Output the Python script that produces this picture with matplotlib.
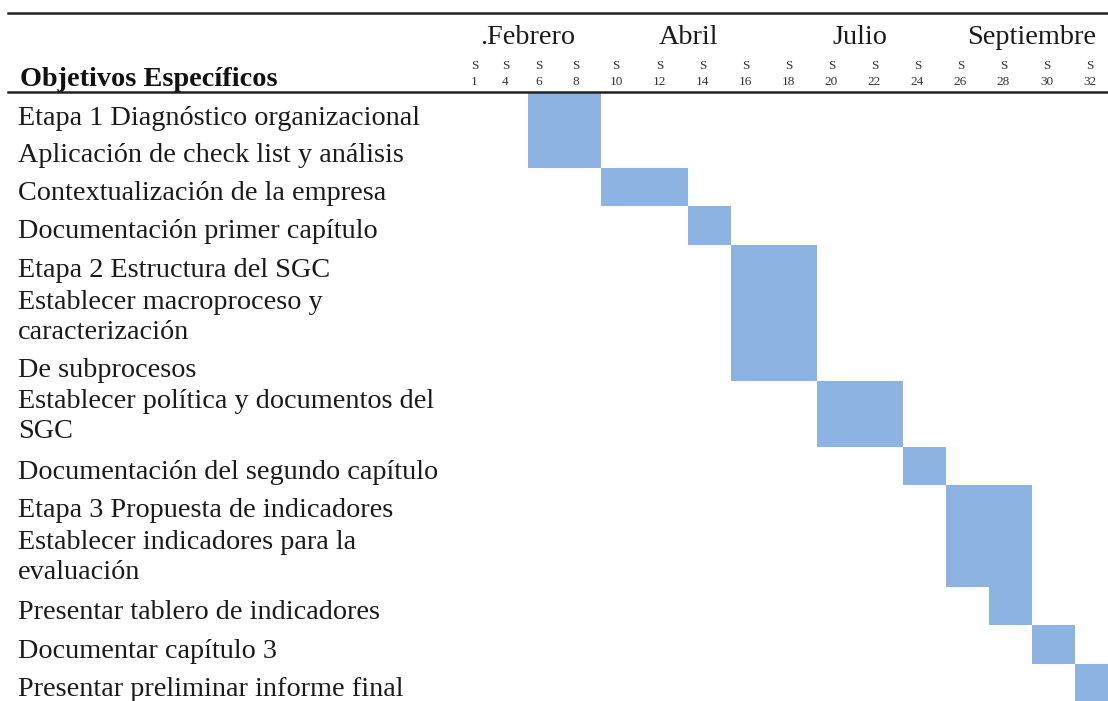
import matplotlib.pyplot as plt

# datos del cronograma
tareas = [
    "Etapa 1 Diagnóstico organizacional",
    "Aplicación de check list y análisis",
    "Contextualización de la empresa",
    "Documentación primer capítulo",
    "Etapa 2 Estructura del SGC",
    "Establecer macroproceso y\ncaracterización",
    "De subprocesos",
    "Establecer política y documentos del\nSGC",
    "Documentación del segundo capítulo",
    "Etapa 3 Propuesta de indicadores",
    "Establecer indicadores para la\nevaluación",
    "Presentar tablero de indicadores",
    "Documentar capítulo 3",
    "Presentar preliminar informe final",
]
inicio = [6, 6, 10, 14, 16, 16, 16, 20, 24, 26, 26, 28, 30, 32]
fin = [8, 8, 12, 14, 18, 18, 18, 22, 24, 28, 28, 28, 30, 32]

semanas = [1, 4, 6, 8, 10, 12, 14, 16, 18, 20, 22, 24, 26, 28, 30, 32]
meses = [".Febrero", "Abril", "Julio", "Septiembre"]
mes_semana = [6, 14, 22, 30]

# layout (pixeles)
col_edges = [466, 497, 528, 564, 601, 645, 688, 731, 774, 817, 860, 903,
             946, 989, 1032, 1075, 1118]
row_edges = [93, 131, 168, 206, 245, 283, 347, 381, 447, 485, 523, 587,
             625, 664, 702]

color_barra = "#8db3e2"
fuente = "Liberation Serif"

fig = plt.figure(figsize=(11.08, 7.01), dpi=100)
ax = fig.add_axes([0, 0, 1, 1])
ax.set_xlim(0, 1108)
ax.set_ylim(701, 0)
ax.axis("off")

# barras
for i, t in enumerate(tareas):
    c0 = semanas.index(inicio[i])
    c1 = semanas.index(fin[i])
    x0 = col_edges[c0]
    x1 = col_edges[c1 + 1]
    y0 = row_edges[i]
    y1 = row_edges[i + 1]
    ax.bar(x0, y1 - y0, width=x1 - x0, bottom=y0, align="edge",
           color=color_barra, edgecolor="none", zorder=2)
    off = 2.5 if "\n" in t else 6.5
    ax.text(18, (y0 + y1) / 2 + off, t, fontsize=20.3, family=fuente,
            va="center", ha="left", linespacing=1.3, color="#1a1a1a")

# encabezado
ax.text(20, 79, "Objetivos Específicos", fontsize=20.3, family=fuente,
        fontweight="bold", va="center", ha="left", color="#111111")
for m, w in zip(meses, mes_semana):
    xm = col_edges[semanas.index(w)]
    ax.text(xm, 37, m, fontsize=20.3, family=fuente, va="center", ha="center",
            color="#1a1a1a")
for j, s in enumerate(semanas):
    xc = (col_edges[j] + col_edges[j + 1]) / 2 - 7
    ax.text(xc, 66, "S", fontsize=9.5, family=fuente, va="center",
            ha="center", color="#333333")
    ax.text(xc, 82, str(s), fontsize=9.5, family=fuente, va="center",
            ha="center", color="#333333")

ax.plot([8, 1108], [13, 13], color="#222222", lw=1.8, zorder=3)
ax.plot([8, 1108], [91.5, 91.5], color="#222222", lw=1.8, zorder=3)

fig.savefig("out.png", dpi=100)
